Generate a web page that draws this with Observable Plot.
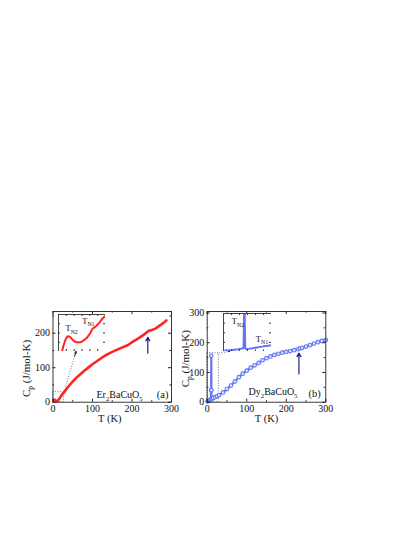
<!DOCTYPE html>
<html><head><meta charset="utf-8">
<script src="https://cdn.jsdelivr.net/npm/d3@7"></script>
<script src="https://cdn.jsdelivr.net/npm/@observablehq/plot@0.6"></script>
<style>
body{margin:0;background:#fff;}
#chart{position:relative;width:415px;height:537px;overflow:hidden;background:#fff;}
#chart svg{position:absolute;overflow:visible;}
</style></head><body><div id="chart"></div>
<script>
// ---------- data ----------
const xTicks = [0, 100, 200, 300];
const xMinor = [50, 150, 250];
const erYTicks = [0, 100, 200];
const erYMinor = [50, 150, 250];
const dyYTicks = [0, 100, 200, 300];
const dyYMinor = [50, 150, 250];

// Er2BaCuO5 main curve
const erT  = [2,4,6,8,10,12,15,20,25,30,40,50,60,70,80,90,100,110,120,130,140,150,160,170,180,190,200,210,220,230,240,245,250,260,270,280,287];
const erCp = [6,7,6,4,3,4,8,17,25,32,47,60,72,82,92,101,110,118,126,134,140,146,151,156,161,166,174,181,188,196,205,208,209,214,222,230,237];
// Er2BaCuO5 inset (low T)
const erInT  = [2.4,3.5,4.5,5.5,6.5,7.5,9,11,12.8,14.5,16.5,18.2,20,21.4,22,23,24,26,28,29.5];
const erInCp = [1,8,13,16,16.5,15.5,12.5,10.2,9.7,10.3,12.5,15,19,23.7,25,26,27.5,31,35.5,38];

// Dy2BaCuO5 main curve
const dyT  = [1,3,5,7,9,10,10.3,10.6,11,13,15,20,25,30,40,50,60,70,80,90,100,110,120,130,140,150,160,170,180,190,200,210,220,230,235,240,250,260,270,280,290,300];
const dyCp = [3,4,5,7,10,40,157,40,12,13,14,17,20,24,33,44,56,70,84,96,106,116,124,132,141,148,154,159,163,166.5,169,172,175,178,181,183,187,192,197,202,206,209];
// Dy2BaCuO5 inset (low T)
const dyInT  = [1,3,5,7,9,11,12.5,13,13.1,13.6,14.5,16,18,20,22,24,26,28,30];
const dyInCp = [8,9,10,12,14,17,21,260,260,18,16,17,19,22,25,28,31,33,35];

// zoom boxes, links, arrows (data coordinates)
const erBoxT = [0, 28], erBoxCp = [0, 30];
const erLinkT = [28, 58.2], erLinkCp = [30, 147];
const erArrowT = 240, erArrowCp = [142, 188];
const dyBoxT = [0, 29.5], dyBoxCp = [0, 165];
const dyLinkT = [29.5, 57], dyLinkCp = [165, 171];
const dyArrowT = 232, dyArrowCp = [95, 165];

const yLabel = "C_p (J/mol-K)";
const xLabel = "T (K)";
const erName = "Er_2BaCuO_5", dyName = "Dy_2BaCuO_5";

// ---------- helpers ----------
const FONT = "'Liberation Serif', 'Times New Roman', serif";
const RED = "#ff2424", BLUE = "#6478f0", NAVY = "#1c1c8c", DOT = "#555";
const chart = document.getElementById("chart");

function subs(svg){
  d3.select(svg).selectAll("text").each(function(){
    const t = this.textContent;
    if (!t.includes("_")) return;
    const fs = parseFloat(getComputedStyle(this).fontSize) || 10;
    const sh = fs * 0.3;
    const parts = []; const re = /_\{([^}]*)\}|_(.)/g; let last = 0, m;
    while ((m = re.exec(t))) {
      if (m.index > last) parts.push([t.slice(last, m.index), false]);
      parts.push([m[1] !== undefined ? m[1] : m[2], true]);
      last = re.lastIndex;
    }
    if (last < t.length) parts.push([t.slice(last), false]);
    const el = d3.select(this); el.text(null);
    let shifted = false;
    for (const [s, sub] of parts) {
      const ts = el.append("tspan").text(s);
      if (sub) { if (!shifted) ts.attr("dy", sh); ts.attr("font-size", fs*0.68); shifted = true; }
      else { if (shifted) ts.attr("dy", -sh); shifted = false; }
    }
  });
}
function place(svg, left, top){
  svg.style.left = left + "px"; svg.style.top = top + "px";
  chart.appendChild(svg); subs(svg);
}
const rows = (xs, ys) => xs.map((x, i) => ({T: x, Cp: ys[i]}));

function mainPanel(o){
  const W = 200, H = 130, mT = 11, mB = 28.3;
  const fW = W - o.mL - o.mR, fH = H - mT - mB;
  const data = rows(o.T, o.Cp);
  const link = {x1: o.linkT[0], y1: o.linkCp[0], x2: o.linkT[1], y2: o.linkCp[1]};
  const head = {x1: link.x2 - 0.12*(link.x2-link.x1), y1: link.y2 - 0.12*(link.y2-link.y1), x2: link.x2, y2: link.y2};
  const marks = [
    Plot.rect([{x1:o.boxT[0], x2:o.boxT[1], y1:o.boxCp[0], y2:o.boxCp[1]}], {x1:"x1",x2:"x2",y1:"y1",y2:"y2", fill:"none", stroke:DOT, strokeWidth:0.8, strokeDasharray:"1,1.6"}),
    Plot.link([link], {x1:"x1",y1:"y1",x2:"x2",y2:"y2", stroke:DOT, strokeWidth:0.8, strokeDasharray:"1,1.6"}),
    Plot.arrow([head], {x1:"x1",y1:"y1",x2:"x2",y2:"y2", stroke:"#111", strokeWidth:0.9, headLength:4.5}),
    Plot.line(data, {x:"T", y:"Cp", stroke:o.color, strokeWidth:o.lw}),
  ];
  if (o.dots) marks.push(Plot.dot(data, {x:"T", y:"Cp", r:1.8, stroke:o.color, strokeWidth:1.1, fill:"#dfe3ff"}));
  marks.push(
    Plot.arrow([{x1:o.arrowT, x2:o.arrowT, y1:o.arrowCp[0], y2:o.arrowCp[1]}], {x1:"x1",x2:"x2",y1:"y1",y2:"y2", stroke:NAVY, strokeWidth:1.2, headLength:5}),
    Plot.frame({stroke:"#222", strokeWidth:0.9}),
    Plot.tickX(xTicks, {x:d=>d, insetTop:fH-3, stroke:"#222"}),
    Plot.tickX(xTicks, {x:d=>d, insetBottom:fH-3, stroke:"#222"}),
    Plot.tickX(xMinor, {x:d=>d, insetTop:fH-1.6, stroke:"#222"}),
    Plot.tickX(xMinor, {x:d=>d, insetBottom:fH-1.6, stroke:"#222"}),
    Plot.tickY(o.yTicks, {y:d=>d, insetRight:fW-3, stroke:"#222"}),
    Plot.tickY(o.yTicks, {y:d=>d, insetLeft:fW-3, stroke:"#222"}),
    Plot.tickY(o.yMinor, {y:d=>d, insetRight:fW-1.6, stroke:"#222"}),
    Plot.tickY(o.yMinor, {y:d=>d, insetLeft:fW-1.6, stroke:"#222"}),
    Plot.text([o.name], {text:d=>d, frameAnchor:"bottom", textAnchor:"middle", lineAnchor:"bottom", dx:o.nameDx, dy:o.nameDy, fontSize:10}),
    Plot.text([o.tag], {text:d=>d, frameAnchor:"bottom-right", textAnchor:"end", lineAnchor:"bottom", dx:o.tagDx, dy:o.tagDy, fontSize:10.5}),
    Plot.text([yLabel], {text:d=>d, frameAnchor:"left", textAnchor:"middle", lineAnchor:"middle", rotate:-90, dx:o.ylDx, dy:o.ylDy, fontSize:11}),
    Plot.text([xLabel], {text:d=>d, frameAnchor:"bottom", textAnchor:"middle", lineAnchor:"middle", dx:o.xlDx, dy:16.3, fontSize:10.5})
  );
  const svg = Plot.plot({
    width: W, height: H, marginLeft: o.mL, marginRight: o.mR, marginTop: mT, marginBottom: mB,
    style: {fontFamily: FONT, fontSize: "10px", background: "transparent", color: "#111"},
    x: {domain: [0, 300], ticks: xTicks, tickSize: 0, tickPadding: 3, tickFormat: d => d, label: null},
    y: {domain: o.yDomain, ticks: o.yTicks, tickSize: 0, tickPadding: 3, tickFormat: d => d, label: null},
    marks
  });
  place(svg, o.left, 300);
}

function inset(o){
  const data = rows(o.T, o.Cp);
  const W = o.w, H = o.h;
  const svg = Plot.plot({
    width: W, height: H, margin: 0,
    style: {fontFamily: FONT, fontSize: "8.5px", background: "#fff", color: "#111"},
    x: {domain: [0, 30], axis: null},
    y: {domain: o.yDomain, axis: null},
    marks: [
      Plot.line(data, {x:"T", y:"Cp", stroke:o.color, strokeWidth:2, clip:true}),
      Plot.frame({stroke:"#333", strokeWidth:0.9}),
      Plot.tickX([5,10,15,20,25], {x:d=>d, insetTop:H-2, stroke:"#333"}),
      Plot.tickX([5,10,15,20,25], {x:d=>d, insetBottom:H-2, stroke:"#333"}),
      Plot.tickY(o.yTicks, {y:d=>d, insetRight:W-2, stroke:"#333"}),
      Plot.tickY(o.yTicks, {y:d=>d, insetLeft:W-2, stroke:"#333"}),
      Plot.text(["T_{N2}"], {text:d=>d, frameAnchor:"top-left", textAnchor:"start", lineAnchor:"top", dx:o.n2[0], dy:o.n2[1], fontSize:8.5}),
      Plot.text(["T_{N1}"], {text:d=>d, frameAnchor:"top-left", textAnchor:"start", lineAnchor:"top", dx:o.n1[0], dy:o.n1[1], fontSize:8.5})
    ]
  });
  svg.style.overflow = "hidden";
  place(svg, o.left, o.top);
}

mainPanel({left:0, mL:52.5, mR:29, T:erT, Cp:erCp, color:RED, lw:2.6, dots:false,
  yDomain:[0,263], yTicks:erYTicks, yMinor:erYMinor,
  boxT:erBoxT, boxCp:erBoxCp, linkT:erLinkT, linkCp:erLinkCp, arrowT:erArrowT, arrowCp:erArrowCp,
  name:erName, nameDx:7.3, nameDy:-4.5, tag:"(a)", tagDx:-3, tagDy:-4.5, ylDx:-26.5, ylDy:11.6, xlDx:-2.5});
mainPanel({left:160, mL:46.7, mR:34.7, T:dyT, Cp:dyCp, color:BLUE, lw:2.2, dots:true,
  yDomain:[0,305], yTicks:dyYTicks, yMinor:dyYMinor,
  boxT:dyBoxT, boxCp:dyBoxCp, linkT:dyLinkT, linkCp:dyLinkCp, arrowT:dyArrowT, arrowCp:dyArrowCp,
  name:dyName, nameDx:6.5, nameDy:-7, tag:"(b)", tagDx:-5, tagDy:-5, ylDx:-21.7, ylDy:1.9, xlDx:0});
inset({left:58, top:314, w:47, h:37, T:erInT, Cp:erInCp, color:RED, yDomain:[0,40], yTicks:[10,20,30], n2:[7,10.5], n1:[23.7,3]});
inset({left:222.7, top:312.5, w:48, h:38.5, T:dyInT, Cp:dyInCp, color:BLUE, yDomain:[0,200], yTicks:[50,100,150], n2:[8.3,4.5], n1:[32.3,22]});
</script></body></html>
